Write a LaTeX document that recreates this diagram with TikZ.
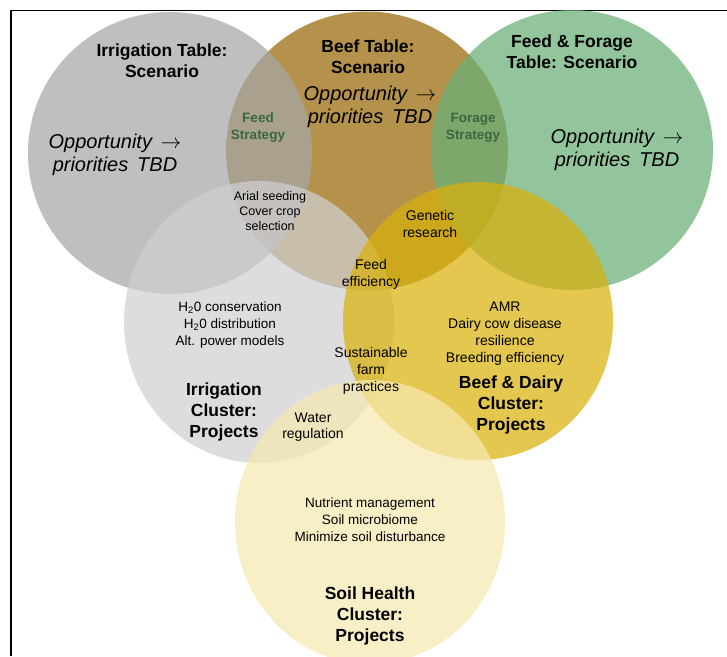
\documentclass[tikz,border=0pt]{standalone}
\usepackage{fontspec}
\setmainfont{Liberation Sans}
\usetikzlibrary{shapes.geometric}

% base colours, laid down with partial opacity so overlaps blend
\definecolor{tablegray}{RGB}{166,166,166}
\definecolor{beefbrown}{RGB}{152,104,6}
\definecolor{forgegreen}{RGB}{105,175,119}
\definecolor{clustergray}{RGB}{208,207,210}
\definecolor{dairygold}{RGB}{216,177,10}
\definecolor{soilyellow}{RGB}{247,233,176}
\definecolor{strategygreen}{RGB}{56,104,64}

\newcommand{\opparrow}{\hspace{3pt}\raisebox{0.5pt}{$\rightarrow$}}

\tikzset{
  venn/.style={ellipse, inner sep=0pt, draw=none, fill opacity=0.72},
  titletext/.style={font=\fontsize{17.5}{21}\selectfont\bfseries, align=center, inner sep=0pt},
  oppotext/.style={font=\fontsize{20}{23}\selectfont\itshape, align=center, inner sep=0pt},
  strategytext/.style={font=\fontsize{13.5}{17}\selectfont\bfseries, text=strategygreen, align=center, inner sep=0pt},
  itemtext/.style={font=\fontsize{14}{17}\selectfont, align=center, inner sep=0pt},
  smalltext/.style={font=\fontsize{12.5}{15}\selectfont, align=center, inner sep=0pt},
}

\begin{document}
\begin{tikzpicture}[x=1pt, y=-1pt]
  \path[use as bounding box] (0,0) rectangle (727,656);

  % slide border (left and top edges)
  \coordinate (frameBL) at (11,656);
  \coordinate (frameTL) at (11,10.5);
  \coordinate (frameTR) at (727,10.5);
  \draw[line width=1.3pt] (frameBL) -- (frameTL) -- (frameTR);

  % discussion tables (top row)
  \node[venn, fill=beefbrown,  minimum width=282pt, minimum height=279pt] (beeftable) at (367,151) {};
  \node[venn, fill=tablegray,  minimum width=284pt, minimum height=282pt] (irrtable)  at (170,153) {};
  \node[venn, fill=forgegreen, minimum width=282pt, minimum height=280pt] (feedtable) at (572,150) {};

  % project clusters
  \node[venn, fill=clustergray, minimum width=270pt, minimum height=282pt] (irrcluster)  at (259,322) {};
  \node[venn, fill=dairygold,   minimum width=270pt, minimum height=278pt] (dairycluster) at (478,321) {};
  \node[venn, fill=soilyellow,  minimum width=270pt, minimum height=284pt] (soilcluster)  at (370,522) {};

  % table headings
  \node[titletext] (irrtitle)  at (162,61) {Irrigation Table:\\Scenario};
  \node[titletext] (beeftitle) at (368,57) {Beef Table:\\Scenario};
  \node[titletext] (feedtitle) at (572,52) {Feed \& Forage\\Table: Scenario};

  \node[oppotext] (irropp)  at (115,155) {Opportunity \opparrow\\priorities \,TBD};
  \node[oppotext] (beefopp) at (370,107) {Opportunity \opparrow\\priorities \,TBD};
  \node[oppotext] (feedopp) at (617,150) {Opportunity \opparrow\\priorities \,TBD};

  \node[strategytext] (feedstrat)   at (258,128) {Feed\\Strategy};
  \node[strategytext] (foragestrat) at (473,128) {Forage\\Strategy};

  % shared topics
  \node[smalltext] (arial)   at (270,211) {Arial seeding\\Cover crop\\selection};
  \node[itemtext]  (genetic) at (430,224) {Genetic\\research};
  \node[itemtext]  (feedeff) at (371,274) {Feed\\efficiency};
  \node[itemtext]  (sustain) at (371,371) {Sustainable\\farm\\practices};
  \node[itemtext, font=\fontsize{14}{16}\selectfont] (water) at (313,427) {Water\\regulation};

  % cluster projects
  \node[itemtext, font=\fontsize{13.5}{17}\selectfont] (h2o) at (230,325)
    {H\textsubscript{2}0 conservation\\H\textsubscript{2}0 distribution\\Alt. power models};
  \node[titletext] (irrclustertitle) at (224,412) {Irrigation\\Cluster:\\Projects};

  \node[itemtext] (amr) at (505,334) {AMR\\Dairy cow disease\\resilience\\Breeding efficiency};
  \node[titletext] (dairyclustertitle) at (511,405) {Beef \& Dairy\\Cluster:\\Projects};

  \node[itemtext, font=\fontsize{13.5}{17}\selectfont] (nutrient) at (370,520)
    {Nutrient management\\Soil microbiome\\Minimize soil disturbance};
  \node[titletext] (soilclustertitle) at (370,616) {Soil Health\\Cluster:\\Projects};
\end{tikzpicture}
\end{document}
